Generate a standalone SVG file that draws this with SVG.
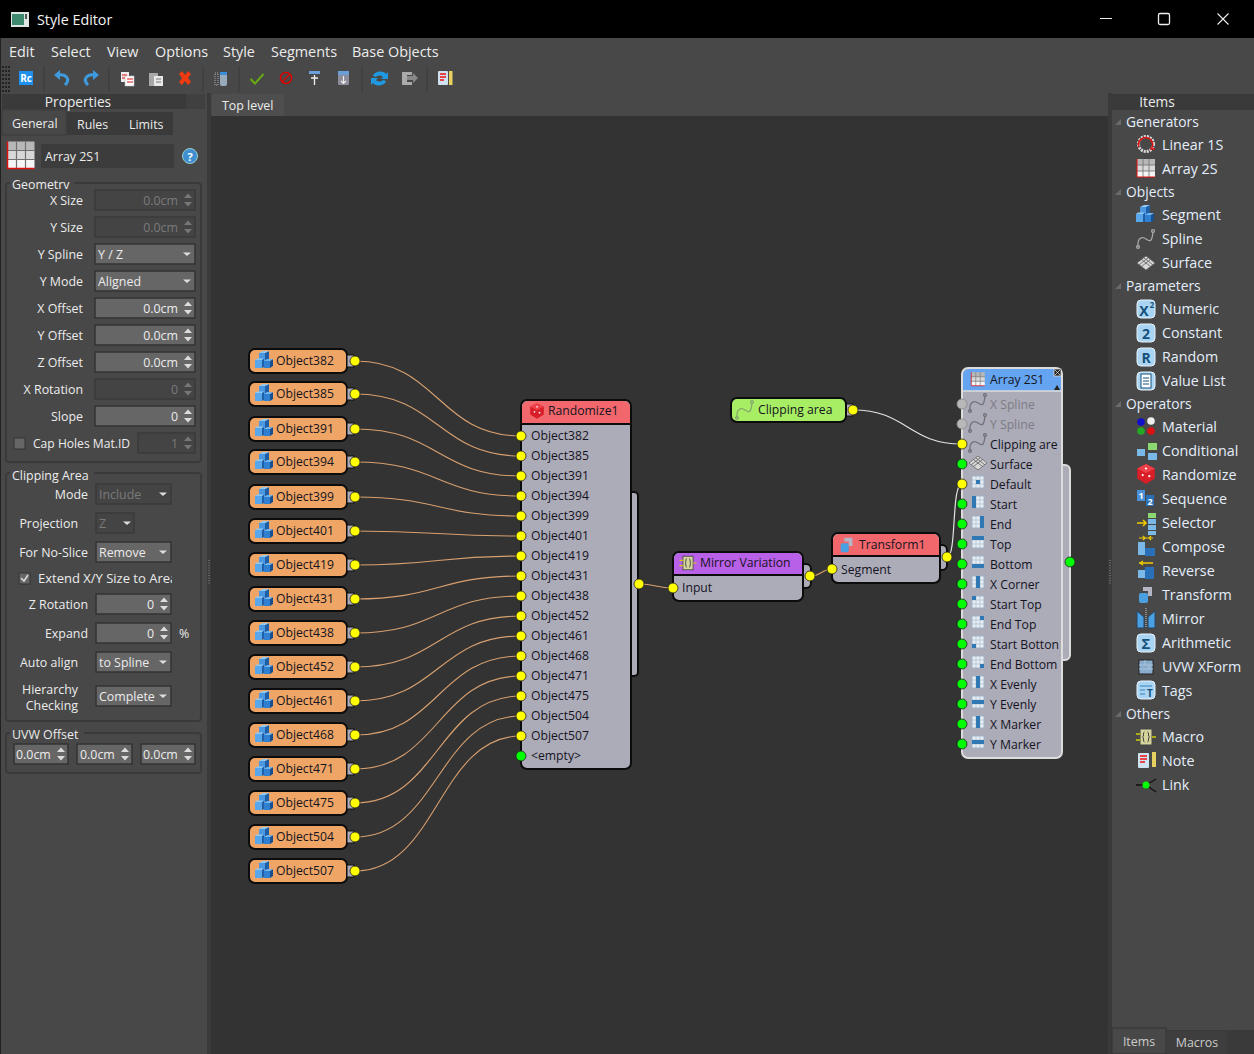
<svg xmlns="http://www.w3.org/2000/svg" width="1254" height="1054" viewBox="0 0 1254 1054">
<style>
text{font-family:"Open Sans","Noto Sans","Liberation Sans",sans-serif;font-size:12.4px;fill:#ececec}
.t{dominant-baseline:central;transform:translateY(-1px)}
.r{text-anchor:end}
.c{text-anchor:middle}
.m{font-size:14.4px}
.h{font-size:13.7px}
.n{fill:#14141e;font-size:12.2px}
.g{fill:#7c7c84;font-size:12.2px}
.d{fill:#7a7a7a}
.i{font-size:14.3px;fill:#e4eefa}
.ih{font-size:13.8px;fill:#e4eefa}
.n,.g,.i,.ih,.h{transform:translateY(-2px)}
.f{fill:#666;stroke:#333;stroke-width:1.5}
.o{fill:#444;stroke:#3a3a3a;stroke-width:1.5}
.fr{fill:none;stroke:#3a3a3a;stroke-width:2}
.e{fill:none;stroke:#d8a070;stroke-width:1.1}
.w{fill:none;stroke:#e2e2e2;stroke-width:1.2}
.py,.pg,.pn{stroke:#222;stroke-width:.8}
.py{fill:#ff0}
.pg{fill:#0f0}
.pn{fill:#b8b8b8;stroke:#8a8a8a}
.b{stroke:#0c0c0c;stroke-width:2}
.ob{fill:#eea566}
.bd{fill:#acabb8}
.rd{fill:#f2676c}
.bl{fill:#2f78b4}
.sp{color:#6f6f78}
</style>
<defs>
<g id="cube"><path d="M-5-7h6v8h-6z" fill="#4c98e0"/><path d="M1-7 5-9V0L1 1z" fill="#1f5fa8"/><path d="M-5-7-1-9H5L1-7z" fill="#8fc8f2"/><path d="M-9 0h7v8h-7z" fill="#5aa6ea"/><path d="M-2 0 0-1.500V7L-2 8z" fill="#1f5fa8"/><path d="M-9 0-7-1.500H0L-2 0z" fill="#8fc8f2"/><path d="M0 1h6v7H0z" fill="#2f80d0"/><path d="M6 1 9-1V6L6 8z" fill="#174f90"/><path d="M0 1 3-1H9L6 1z" fill="#6fb4ea"/></g>
<g id="spline" fill="none" stroke="currentColor" stroke-width="1.300"><path d="M-8 8C-9-1-4-3 0 0S6 3 7-7"/><circle cx="-8" cy="8" r="1.400"/><circle cx="7" cy="-8" r="1.400"/></g>
<g id="surf"><path d="M0-7 9 0 0 7-9 0z" fill="#d8d8d8" stroke="#666" stroke-width=".8"/><path d="M-4.500-3.500 4.500 3.500M-4.500 3.500 4.500-3.500M-2.250-5.250 6.750 1.750M2.250-5.250-6.750 1.750" stroke="#666" stroke-width=".9"/></g>
<g id="grid"><path d="M-9-9h18v6h-18z" fill="#b8b8b8"/><path d="M-9-3h18v6h-18z" fill="#d8d8d8"/><path d="M-9 3h18v6h-18z" fill="#f6f6f6"/><path d="M-3-9v18M3-9v18M-9-3h18M-9 3h18" stroke="#707070" stroke-width=".8"/><path d="M-9-9V9H9" fill="none" stroke="#e01010" stroke-width="1"/></g>
<g id="bubble"><rect x="-9" y="-9" width="18" height="18" rx="4" fill="#a9d4f2" stroke="#e8f3fb"/></g>
<g id="spin"><path d="M-4-2 0-6.500 4-2z"/><path d="M-4 2 0 6.500 4 2z"/></g>
<path id="dd" d="M-4-1.500H4L0 2z" fill="#ddd"/>
<path id="tri" d="M-3 3H3V-3z" fill="#6a6a6a"/>
<g id="pc"><rect x="-6" y="-6" width="12" height="12" fill="#e8eef4" stroke="#9fb4c8"/><path d="M-2-6v12M2-6v12M-6-2h12M-6 2h12" stroke="#a9bccd" stroke-width=".7"/></g>
<g id="macro"><rect x="-6" y="-8" width="12" height="16" fill="#d4d49c" stroke="#444"/><path d="M-6-3h-4M-6 3h-4M6 0h4" stroke="#cc0" stroke-width="1.400"/><path d="M-1.500-5c-2 0 0 5-2 5 2 0 0 5 2 5M1.500-5c2 0 0 5 2 5-2 0 0 5-2 5" fill="none" stroke="#333"/></g>
<g id="tf"><rect x="-7" y="-2" width="9" height="10" rx="2" fill="#4aa0e0"/><path d="M-3-8h9v9h-4v-5h-5z" fill="#b5b5c5"/></g>
<g id="dice"><path d="M0-9 8-5v9L0 9-8 4v-9z" fill="#d81e28"/><path d="M0-9 8-5 0-1-8-5z" fill="#ee4048"/><circle cx="-3" cy="1" r="1" fill="#fff"/><circle cx="3" cy="2" r="1" fill="#fff"/><circle cx="0" cy="-5" r="1" fill="#fff"/></g>
</defs>

<rect width="1254" height="1054" fill="#484848"/>
<rect width="1254" height="38" fill="#000"/>
<g id="titlebar">
<rect x="11" y="12" width="18" height="15" fill="#dfe6e6"/><rect x="12" y="14" width="12" height="11" fill="#3d8a6e"/><rect x="25" y="14" width="2" height="5" fill="#555"/>
<text class="t" x="37" y="20.500" style="font-size:14.300px;fill:#f4f4f4">Style Editor</text>
<path d="M1100 18.500H1112" stroke="#eee" stroke-width="1"/>
<rect x="1158.500" y="13.500" width="11" height="11" rx="1.500" fill="none" stroke="#eee" stroke-width="1.300"/>
<path d="M1217.500 13.500 1228.500 24.500M1228.500 13.500 1217.500 24.500" stroke="#eee" stroke-width="1.100"/>
</g>
<g id="menu">
<text class="t m" x="9" y="52">Edit</text><text class="t m" x="51" y="52">Select</text><text class="t m" x="107" y="52">View</text><text class="t m" x="155" y="52">Options</text><text class="t m" x="223" y="52">Style</text><text class="t m" x="271" y="52">Segments</text><text class="t m" x="352" y="52">Base Objects</text>
</g>
<g id="toolbar">
<path d="M3 66v26M6 66v26M9 66v26" stroke="#222" stroke-width="2" stroke-dasharray="2 2"/>
<rect x="19" y="71" width="14" height="14" fill="#1e90f0"/><text class="t c" x="26" y="79" style="font-size:10px;font-weight:700;fill:#fff">Rc</text>
<path d="M44 66v26M109 66v26M203 66v26M239 66v26M362 66v26M427 66v26" stroke="#3a3a3a"/>
<path d="M60 70 54 75 60 80z" fill="#3f9be0"/><path d="M58 75C66 74 71 79 65 85" fill="none" stroke="#3f9be0" stroke-width="3"/>
<path d="M93 70 99 75 93 80z" fill="#3f9be0"/><path d="M95 75C87 74 82 79 88 85" fill="none" stroke="#3f9be0" stroke-width="3"/>
<rect x="121" y="72" width="8" height="10" fill="#eee"/><rect x="125" y="76" width="9" height="10" fill="#fff" stroke="#bbb" stroke-width=".6"/><path d="M122 75h5M122 78h3M127 79h6M127 82h6" stroke="#d11" stroke-width="1.200"/>
<rect x="149" y="73" width="9" height="13" fill="#a8a8a8"/><rect x="154" y="76" width="9" height="10" fill="#e8e8e8"/><path d="M156 79h5M156 82h5" stroke="#777"/>
<path d="M179 74 182 71 185 75 188 71 191 74 188 78 191 82 188 85 185 81 182 85 179 82 182 78z" fill="#f23a10"/>
<rect x="215" y="73" width="3" height="12" fill="none" stroke="#aaa" stroke-dasharray="1 1"/><rect x="220" y="72" width="7" height="14" rx="2" fill="#9ab"/><rect x="220" y="72" width="7" height="3" fill="#3a8fd8"/>
<path d="M251 78 255 82 263 73 264 75 255 85 250 80z" fill="#66aa10"/>
<circle cx="286" cy="78" r="5.500" fill="none" stroke="#d00" stroke-width="1.500"/><path d="M282 82 290 74" stroke="#d00" stroke-width="1.500"/>
<rect x="309" y="71" width="11" height="3" fill="#6a9fd8"/><path d="M314.500 85V75M311 78h7" stroke="#eee" stroke-width="1.300"/>
<rect x="338" y="71" width="11" height="14" rx="1" fill="#8c8c9c"/><rect x="338" y="71" width="11" height="4" fill="#6a9fd8"/><path d="M343.500 76V83M341 81l2.500 2.500L346 81" fill="none" stroke="#eee" stroke-width="1.200"/>
<path d="M373 76C374 71 384 70 386 74L388 72V79H381L383 77C381 75 378 75 376 77z" fill="#1f9ae0"/><path d="M386 81C385 86 375 87 373 83L371 85V78H378L376 80C378 82 381 82 383 80z" fill="#1f9ae0"/>
<path d="M402 72h10v3h-5v7h5v3h-10z" fill="#aaa"/><path d="M407 76h6v-3l5 5-5 5v-3h-6z" fill="#888"/>
<rect x="438" y="71" width="10" height="14" rx="1" fill="#cfe2f2"/><path d="M440 74h6M440 77h6M440 80h4" stroke="#e11" stroke-width="1.300"/><rect x="449" y="71" width="3.500" height="14" fill="#e8d060"/>
</g>

<rect x="0" y="38" width="1" height="1016" fill="#222"/>
<rect x="207" y="93" width="4" height="961" fill="#3a3a3a"/>
<rect x="1108" y="93" width="4" height="961" fill="#3a3a3a"/>
<rect x="211" y="116" width="897" height="938" fill="#333"/>
<path d="M209 560v25M1110 560v25" stroke="#666" stroke-width="2" stroke-dasharray="1 1.500"/>
<path d="M212 116V96q0-2 2-2H282q2 0 2 2V116z" fill="#4e4e4e"/>
<text class="t" x="222" y="106">Top level</text>

<g id="properties">
<rect x="2" y="94" width="184" height="15" fill="#3a3a3a"/><rect x="186" y="94" width="19" height="15" fill="#404040"/>
<text class="t c h" x="78" y="103">Properties</text>
<rect x="67" y="112" width="106" height="23" fill="#3a3a3a"/>
<rect x="2" y="110" width="64" height="25" fill="#484848" stroke="#3a3a3a"/>
<text class="t" x="12" y="124.500">General</text><text class="t" x="77" y="125.500">Rules</text><text class="t" x="129" y="125.500">Limits</text>
<use href="#grid" transform="translate(21 155) scale(1.500)"/>
<rect x="41" y="144" width="133" height="24" fill="#3c3c3c"/><text class="t" x="45" y="157.500">Array 2S1</text>
<circle cx="190" cy="156" r="7.500" fill="#3f8fd2" stroke="#9cc"/><text class="t c" x="190" y="157" style="font-size:11px;font-weight:700;fill:#fff">?</text>

<rect class="fr" x="6" y="183" width="195" height="279" rx="3"/><rect x="10" y="178" width="64" height="12" fill="#484848"/>
<text class="t" x="12" y="185">Geometrv</text>
<rect class="fr" x="6" y="473" width="195" height="248" rx="3"/><rect x="10" y="467" width="84" height="14" fill="#484848"/>
<text class="t" x="12" y="476">Clipping Area</text>
<rect class="fr" x="6" y="733" width="195" height="40" rx="3"/><rect x="10" y="727" width="74" height="14" fill="#484848"/>
<text class="t" x="12" y="735">UVW Offset</text>

<text class="t r" x="83" y="201">X Size</text><rect class="o" x="95" y="190" width="100" height="20"/><text class="t r d" x="178" y="201">0.0cm</text><use href="#spin" x="188" y="200" fill="#777"/>
<text class="t r" x="83" y="228">Y Size</text><rect class="o" x="95" y="217" width="100" height="20"/><text class="t r d" x="178" y="228">0.0cm</text><use href="#spin" x="188" y="227" fill="#777"/>
<text class="t r" x="83" y="255">Y Spline</text><rect class="f" x="95" y="244" width="100" height="20"/><text class="t" x="98" y="255">Y / Z</text><use href="#dd" x="187" y="254"/>
<text class="t r" x="83" y="282">Y Mode</text><rect class="f" x="95" y="271" width="100" height="20"/><text class="t" x="98" y="282">Aligned</text><use href="#dd" x="187" y="281"/>
<text class="t r" x="83" y="309">X Offset</text><rect class="f" x="95" y="298" width="100" height="20"/><text class="t r" x="178" y="309">0.0cm</text><use href="#spin" x="188" y="308" fill="#ddd"/>
<text class="t r" x="83" y="336">Y Offset</text><rect class="f" x="95" y="325" width="100" height="20"/><text class="t r" x="178" y="336">0.0cm</text><use href="#spin" x="188" y="335" fill="#ddd"/>
<text class="t r" x="83" y="363">Z Offset</text><rect class="f" x="95" y="352" width="100" height="20"/><text class="t r" x="178" y="363">0.0cm</text><use href="#spin" x="188" y="362" fill="#ddd"/>
<text class="t r" x="83" y="390">X Rotation</text><rect class="o" x="95" y="379" width="100" height="20"/><text class="t r d" x="178" y="390">0</text><use href="#spin" x="188" y="389" fill="#777"/>
<text class="t r" x="83" y="417">Slope</text><rect class="f" x="95" y="406" width="100" height="20"/><text class="t r" x="178" y="417">0</text><use href="#spin" x="188" y="416" fill="#ddd"/>
<rect x="14" y="438" width="11" height="11" fill="#666" stroke="#333"/><text class="t" x="33" y="444" style="font-size:12.100px">Cap Holes Mat.ID</text><rect class="o" x="138" y="433" width="57" height="20"/><text class="t r d" x="178" y="444">1</text><use href="#spin" x="188" y="443" fill="#777"/>

<text class="t r" x="88" y="495">Mode</text><rect class="o" x="96" y="484" width="75" height="20"/><text class="t d" x="99" y="495">Include</text><use href="#dd" x="163" y="494"/>
<text class="t r" x="78" y="524">Projection</text><rect class="o" x="96" y="513" width="38" height="20"/><text class="t d" x="99" y="524">Z</text><use href="#dd" x="127" y="523"/>
<text class="t r" x="88" y="553">For No-Slice</text><rect class="f" x="96" y="542" width="75" height="20"/><text class="t" x="99" y="553">Remove</text><use href="#dd" x="163" y="552"/>
<rect x="19" y="573" width="11" height="11" fill="#666" stroke="#333"/><path d="M21 578l3 3 4-6" fill="none" stroke="#ddd" stroke-width="1.500"/>
<svg x="0" y="560" width="172" height="40"><text class="t" x="38" y="19" style="font-size:13px">Extend X/Y Size to Area</text></svg>
<text class="t r" x="88" y="605">Z Rotation</text><rect class="f" x="96" y="594" width="75" height="20"/><text class="t r" x="154" y="605">0</text><use href="#spin" x="164" y="604" fill="#ddd"/>
<text class="t r" x="88" y="634">Expand</text><rect class="f" x="96" y="623" width="75" height="20"/><text class="t r" x="154" y="634">0</text><use href="#spin" x="164" y="633" fill="#ddd"/><text class="t" x="179" y="634">%</text>
<text class="t r" x="78" y="663">Auto align</text><rect class="f" x="96" y="652" width="75" height="20"/><text class="t" x="99" y="663">to Spline</text><use href="#dd" x="163" y="662"/>
<text class="t r" x="78" y="690">Hierarchy</text><text class="t r" x="78" y="706">Checking</text><rect class="f" x="96" y="686" width="75" height="20"/><text class="t" x="99" y="697">Complete</text><use href="#dd" x="163" y="696"/>
<rect class="f" x="14" y="744" width="54" height="20"/><text class="t" x="16" y="755">0.0cm</text><use href="#spin" x="61" y="754" fill="#ddd"/>
<rect class="f" x="77" y="744" width="55" height="20"/><text class="t" x="80" y="755">0.0cm</text><use href="#spin" x="125" y="754" fill="#ddd"/>
<rect class="f" x="141" y="744" width="54" height="20"/><text class="t" x="143" y="755">0.0cm</text><use href="#spin" x="188" y="754" fill="#ddd"/>
</g>

<g id="items">
<rect x="1112" y="94" width="142" height="16" fill="#3a3a3a"/>
<text class="t c h" x="1157" y="103">Items</text>
<use href="#tri" x="1118" y="122"/><text class="t ih" x="1126" y="123">Generators</text>
<circle cx="1146" cy="144" r="7.500" fill="none" stroke="#ddd" stroke-width="3" stroke-dasharray="2 1"/><path d="M1139 147a7 7 0 1 1 12 2h4" fill="none" stroke="#d11" stroke-width="1.600"/><text class="t i" x="1162" y="146">Linear 1S</text>
<use href="#grid" x="1146" y="168"/><text class="t i" x="1162" y="170">Array 2S</text>
<use href="#tri" x="1118" y="192"/><text class="t ih" x="1126" y="193">Objects</text>
<use href="#cube" x="1145" y="214"/><text class="t i" x="1162" y="216">Segment</text>
<use href="#spline" x="1146" y="239" color="#a8a8a8"/><text class="t i" x="1162" y="240">Spline</text>
<use href="#surf" x="1146" y="263"/><text class="t i" x="1162" y="264">Surface</text>
<use href="#tri" x="1118" y="286"/><text class="t ih" x="1126" y="287">Parameters</text>
<use href="#bubble" x="1146" y="309"/><text class="t c" x="1144" y="311" style="font-size:14px;font-weight:700;fill:#14507a">X</text><text class="t c" x="1152" y="305" style="font-size:8px;font-weight:700;fill:#14507a">2</text><text class="t i" x="1162" y="310">Numeric</text>
<use href="#bubble" x="1146" y="333"/><text class="t c" x="1146" y="334" style="font-size:14px;font-weight:700;fill:#14507a">2</text><text class="t i" x="1162" y="334">Constant</text>
<use href="#bubble" x="1146" y="357"/><text class="t c" x="1146" y="358" style="font-size:14px;font-weight:700;fill:#14507a">R</text><text class="t i" x="1162" y="358">Random</text>
<use href="#bubble" x="1146" y="381"/><rect x="1141" y="374" width="10" height="14" fill="#fff" stroke="#14507a"/><path d="M1143 378h6M1143 381h6M1143 384h6" stroke="#14507a"/><text class="t i" x="1162" y="382">Value List</text>
<use href="#tri" x="1118" y="404"/><text class="t ih" x="1126" y="405">Operators</text>
<circle cx="1141" cy="422" r="3.800" fill="#11c"/><circle cx="1151" cy="421" r="3.800" fill="#eee"/><circle cx="1141" cy="431" r="3.800" fill="#2a2"/><circle cx="1151" cy="431" r="3.800" fill="#d11"/><text class="t i" x="1162" y="428">Material</text>
<rect x="1137" y="449" width="8" height="7" fill="#7ab8e8"/><rect x="1148" y="443" width="9" height="7" fill="#8cd870"/><rect x="1148" y="453" width="9" height="7" fill="#7ab8e8"/><text class="t i" x="1162" y="452">Conditional</text>
<use href="#dice" transform="translate(1146 474) scale(1.100)"/><text class="t i" x="1162" y="476">Randomize</text>
<rect x="1137" y="490" width="8" height="11" fill="#4a90d8"/><rect x="1146" y="495" width="8" height="11" fill="#2a70b8"/><text class="t c" x="1141" y="496" style="font-size:9px;font-weight:700;fill:#fff">1</text><text class="t c" x="1150" y="502" style="font-size:9px;font-weight:700;fill:#fff">2</text><text class="t i" x="1162" y="500">Sequence</text>
<path d="M1137 523h9M1143 520l3 3-3 3" fill="none" stroke="#ec0" stroke-width="1.500"/><rect x="1148" y="513" width="8" height="5" fill="#8cd870"/><rect x="1148" y="519" width="8" height="5" fill="#7ab8e8"/><rect x="1148" y="525" width="8" height="5" fill="#7ab8e8"/><rect x="1148" y="531" width="8" height="4" fill="#7ab8e8"/><text class="t i" x="1162" y="524">Selector</text>
<path d="M1139 538h14M1143 536l2 2-2 2M1151 536l-2 2 2 2" fill="none" stroke="#ec0" stroke-width="1.200"/><rect x="1138" y="542" width="7" height="13" fill="#7ab8e8"/><rect x="1145" y="548" width="10" height="8" fill="#2a70b8"/><text class="t i" x="1162" y="548">Compose</text>
<path d="M1139 563h14M1143 561l-3 2 3 2" fill="none" stroke="#ec0" stroke-width="1.300"/><rect x="1138" y="570" width="7" height="8" fill="#7ab8e8"/><rect x="1145" y="567" width="9" height="12" fill="#2a70b8"/><text class="t i" x="1162" y="572">Reverse</text>
<use href="#tf" x="1146" y="595"/><text class="t i" x="1162" y="596">Transform</text>
<path d="M1137 611 1144 617V628H1137zM1155 611 1148 617V628H1155z" fill="#4aa0e0" stroke="#246"/><path d="M1146 608V628" stroke="#ccc" stroke-dasharray="1 1"/><text class="t i" x="1162" y="620">Mirror</text>
<use href="#bubble" x="1146" y="643"/><text class="t c" x="1146" y="644" style="font-size:15px;font-weight:700;fill:#14507a">Σ</text><text class="t i" x="1162" y="644">Arithmetic</text>
<rect x="1139" y="660" width="14" height="14" fill="#8aaccc" stroke="#222"/><path d="M1139 665h14M1139 669h14M1145 660v5M1149 665v4" stroke="#a9c4dc"/><text class="t i" x="1162" y="668">UVW XForm</text>
<use href="#bubble" x="1146" y="690"/><path d="M1140 686h12M1140 690h5M1140 694h5" stroke="#3a80c0"/><text class="t c" x="1150" y="694" style="font-size:10px;font-weight:700;fill:#14507a">T</text><text class="t i" x="1162" y="692">Tags</text>
<use href="#tri" x="1118" y="714"/><text class="t ih" x="1126" y="715">Others</text>
<use href="#macro" x="1146" y="737"/><text class="t i" x="1162" y="738">Macro</text>
<rect x="1138" y="753" width="11" height="15" rx="1" fill="#cfe2f2"/><path d="M1140 756h7M1140 759h7M1140 762h5" stroke="#e11" stroke-width="1.300"/><rect x="1152" y="752" width="4" height="15" fill="#e8d060"/><text class="t i" x="1162" y="762">Note</text>
<path d="M1136 785h10M1146 785l10-6M1146 785l10 7" stroke="#111" stroke-width="1.300"/><circle cx="1146" cy="785" r="3.500" fill="#0f0"/><text class="t i" x="1162" y="786">Link</text>
<rect x="1112" y="1030" width="142" height="24" fill="#3a3a3a"/><rect x="1112" y="1028" width="54" height="26" fill="#484848" stroke="#333"/><rect x="1166" y="1031" width="61" height="23" fill="#3e3e3e"/>
<text class="t c" x="1139" y="1042" style="fill:#ccc">Items</text><text class="t c" x="1197" y="1043" style="fill:#ccc">Macros</text>
</g>

<g id="connectors">
<path class="e" d="M355 361C438 361 438 436 521 436"/>
<path class="e" d="M355 394C438 394 438 456 521 456"/>
<path class="e" d="M355 429C438 429 438 476 521 476"/>
<path class="e" d="M355 462C438 462 438 496 521 496"/>
<path class="e" d="M355 497C438 497 438 516 521 516"/>
<path class="e" d="M355 531C438 531 438 536 521 536"/>
<path class="e" d="M355 565C438 565 438 556 521 556"/>
<path class="e" d="M355 599C438 599 438 576 521 576"/>
<path class="e" d="M355 633C438 633 438 596 521 596"/>
<path class="e" d="M355 667C438 667 438 616 521 616"/>
<path class="e" d="M355 701C438 701 438 636 521 636"/>
<path class="e" d="M355 735C438 735 438 656 521 656"/>
<path class="e" d="M355 769C438 769 438 676 521 676"/>
<path class="e" d="M355 803C438 803 438 696 521 696"/>
<path class="e" d="M355 837C438 837 438 716 521 716"/>
<path class="e" d="M355 871C438 871 438 736 521 736"/>
<path class="e" d="M639 584C656 584 656 588 673 588"/>
<path class="e" d="M811 576C821 576 822 569 832 569"/>
<path class="w" d="M853 410C907 410 908 444 962 444"/>
<path class="w" d="M947 557C957 557 951 484 962 484"/>
</g>

<g id="n382"><rect class="ob b" x="249" y="349" width="98" height="24" rx="6"/><rect x="347" y="355" width="7" height="12" fill="#acabb8" stroke="#111"/><use href="#cube" x="264" y="360"/><text class="t n" x="276" y="362">Object382</text><circle class="py" cx="355" cy="361" r="5"/></g>
<g id="n385"><rect class="ob b" x="249" y="382" width="98" height="24" rx="6"/><rect x="347" y="388" width="7" height="12" fill="#acabb8" stroke="#111"/><use href="#cube" x="264" y="393"/><text class="t n" x="276" y="395">Object385</text><circle class="py" cx="355" cy="394" r="5"/></g>
<g id="n391"><rect class="ob b" x="249" y="417" width="98" height="24" rx="6"/><rect x="347" y="423" width="7" height="12" fill="#acabb8" stroke="#111"/><use href="#cube" x="264" y="428"/><text class="t n" x="276" y="430">Object391</text><circle class="py" cx="355" cy="429" r="5"/></g>
<g id="n394"><rect class="ob b" x="249" y="450" width="98" height="24" rx="6"/><rect x="347" y="456" width="7" height="12" fill="#acabb8" stroke="#111"/><use href="#cube" x="264" y="461"/><text class="t n" x="276" y="463">Object394</text><circle class="py" cx="355" cy="462" r="5"/></g>
<g id="n399"><rect class="ob b" x="249" y="485" width="98" height="24" rx="6"/><rect x="347" y="491" width="7" height="12" fill="#acabb8" stroke="#111"/><use href="#cube" x="264" y="496"/><text class="t n" x="276" y="498">Object399</text><circle class="py" cx="355" cy="497" r="5"/></g>
<g id="n401"><rect class="ob b" x="249" y="519" width="98" height="24" rx="6"/><rect x="347" y="525" width="7" height="12" fill="#acabb8" stroke="#111"/><use href="#cube" x="264" y="530"/><text class="t n" x="276" y="532">Object401</text><circle class="py" cx="355" cy="531" r="5"/></g>
<g id="n419"><rect class="ob b" x="249" y="553" width="98" height="24" rx="6"/><rect x="347" y="559" width="7" height="12" fill="#acabb8" stroke="#111"/><use href="#cube" x="264" y="564"/><text class="t n" x="276" y="566">Object419</text><circle class="py" cx="355" cy="565" r="5"/></g>
<g id="n431"><rect class="ob b" x="249" y="587" width="98" height="24" rx="6"/><rect x="347" y="593" width="7" height="12" fill="#acabb8" stroke="#111"/><use href="#cube" x="264" y="598"/><text class="t n" x="276" y="600">Object431</text><circle class="py" cx="355" cy="599" r="5"/></g>
<g id="n438"><rect class="ob b" x="249" y="621" width="98" height="24" rx="6"/><rect x="347" y="627" width="7" height="12" fill="#acabb8" stroke="#111"/><use href="#cube" x="264" y="632"/><text class="t n" x="276" y="634">Object438</text><circle class="py" cx="355" cy="633" r="5"/></g>
<g id="n452"><rect class="ob b" x="249" y="655" width="98" height="24" rx="6"/><rect x="347" y="661" width="7" height="12" fill="#acabb8" stroke="#111"/><use href="#cube" x="264" y="666"/><text class="t n" x="276" y="668">Object452</text><circle class="py" cx="355" cy="667" r="5"/></g>
<g id="n461"><rect class="ob b" x="249" y="689" width="98" height="24" rx="6"/><rect x="347" y="695" width="7" height="12" fill="#acabb8" stroke="#111"/><use href="#cube" x="264" y="700"/><text class="t n" x="276" y="702">Object461</text><circle class="py" cx="355" cy="701" r="5"/></g>
<g id="n468"><rect class="ob b" x="249" y="723" width="98" height="24" rx="6"/><rect x="347" y="729" width="7" height="12" fill="#acabb8" stroke="#111"/><use href="#cube" x="264" y="734"/><text class="t n" x="276" y="736">Object468</text><circle class="py" cx="355" cy="735" r="5"/></g>
<g id="n471"><rect class="ob b" x="249" y="757" width="98" height="24" rx="6"/><rect x="347" y="763" width="7" height="12" fill="#acabb8" stroke="#111"/><use href="#cube" x="264" y="768"/><text class="t n" x="276" y="770">Object471</text><circle class="py" cx="355" cy="769" r="5"/></g>
<g id="n475"><rect class="ob b" x="249" y="791" width="98" height="24" rx="6"/><rect x="347" y="797" width="7" height="12" fill="#acabb8" stroke="#111"/><use href="#cube" x="264" y="802"/><text class="t n" x="276" y="804">Object475</text><circle class="py" cx="355" cy="803" r="5"/></g>
<g id="n504"><rect class="ob b" x="249" y="825" width="98" height="24" rx="6"/><rect x="347" y="831" width="7" height="12" fill="#acabb8" stroke="#111"/><use href="#cube" x="264" y="836"/><text class="t n" x="276" y="838">Object504</text><circle class="py" cx="355" cy="837" r="5"/></g>
<g id="n507"><rect class="ob b" x="249" y="859" width="98" height="24" rx="6"/><rect x="347" y="865" width="7" height="12" fill="#acabb8" stroke="#111"/><use href="#cube" x="264" y="870"/><text class="t n" x="276" y="872">Object507</text><circle class="py" cx="355" cy="871" r="5"/></g>

<g id="randomize">
<rect class="bd b" x="628" y="492" width="10" height="184" rx="4"/>
<rect class="bd b" x="521" y="400" width="110" height="369" rx="6"/>
<path class="rd" d="M522 407a6 6 0 0 1 6-6h96a6 6 0 0 1 6 6v17H522z"/>
<path d="M521 424H631" stroke="#0c0c0c" stroke-width="2"/>
<use href="#dice" transform="translate(537 411) scale(.85)"/>
<text class="t n" x="548" y="412">Randomize1</text>
<text class="t n" x="531" y="437">Object382</text><text class="t n" x="531" y="457">Object385</text><text class="t n" x="531" y="477">Object391</text><text class="t n" x="531" y="497">Object394</text><text class="t n" x="531" y="517">Object399</text><text class="t n" x="531" y="537">Object401</text><text class="t n" x="531" y="557">Object419</text><text class="t n" x="531" y="577">Object431</text><text class="t n" x="531" y="597">Object438</text><text class="t n" x="531" y="617">Object452</text><text class="t n" x="531" y="637">Object461</text><text class="t n" x="531" y="657">Object468</text><text class="t n" x="531" y="677">Object471</text><text class="t n" x="531" y="697">Object475</text><text class="t n" x="531" y="717">Object504</text><text class="t n" x="531" y="737">Object507</text><text class="t n" x="531" y="757">&lt;empty&gt;</text>
<circle class="py" cx="521" cy="436" r="5"/><circle class="py" cx="521" cy="456" r="5"/><circle class="py" cx="521" cy="476" r="5"/><circle class="py" cx="521" cy="496" r="5"/><circle class="py" cx="521" cy="516" r="5"/><circle class="py" cx="521" cy="536" r="5"/><circle class="py" cx="521" cy="556" r="5"/><circle class="py" cx="521" cy="576" r="5"/><circle class="py" cx="521" cy="596" r="5"/><circle class="py" cx="521" cy="616" r="5"/><circle class="py" cx="521" cy="636" r="5"/><circle class="py" cx="521" cy="656" r="5"/><circle class="py" cx="521" cy="676" r="5"/><circle class="py" cx="521" cy="696" r="5"/><circle class="py" cx="521" cy="716" r="5"/><circle class="py" cx="521" cy="736" r="5"/><circle class="pg" cx="521" cy="756" r="5"/>
<circle class="py" cx="639" cy="584" r="5"/>
</g>

<g id="mirror">
<rect class="bd b" x="798" y="564" width="13" height="24" rx="5"/>
<rect class="bd b" x="673" y="552" width="130" height="49" rx="6"/>
<path fill="#b860e8" d="M674 559a6 6 0 0 1 6-6h116a6 6 0 0 1 6 6v16H674z"/>
<path d="M673 575H803" stroke="#0c0c0c" stroke-width="2"/>
<use href="#macro" transform="translate(688 563) scale(.85)"/>
<text class="t n" x="700" y="564">Mirror Variation</text>
<text class="t n" x="682" y="589">Input</text>
<circle class="py" cx="673" cy="588" r="5"/><circle class="py" cx="810" cy="576" r="5"/>
</g>

<g id="transform">
<rect class="bd b" x="935" y="545" width="12" height="25" rx="5"/>
<rect class="bd b" x="832" y="533" width="108" height="50" rx="6"/>
<path class="rd" d="M833 540a6 6 0 0 1 6-6h94a6 6 0 0 1 6 6v16H833z"/>
<path d="M832 556H940" stroke="#0c0c0c" stroke-width="2"/>
<use href="#tf" transform="translate(847 545) scale(.9)"/>
<text class="t n" x="859" y="546">Transform1</text>
<text class="t n" x="841" y="571">Segment</text>
<circle class="py" cx="832" cy="569" r="5"/><circle class="py" cx="947" cy="557" r="5"/>
</g>

<g id="clipping">
<rect x="846" y="404" width="7" height="12" fill="#acabb8" stroke="#111"/>
<rect class="b" fill="#a8ee64" x="731" y="398" width="115" height="24" rx="6"/>
<use href="#spline" transform="translate(745 410)" color="#84a86c"/>
<text class="t n" x="758" y="411">Clipping area</text>
<circle class="py" cx="853" cy="410" r="5"/>
</g>

<g id="array">
<rect x="1055" y="465" width="15" height="195" rx="5" fill="#acabb8" stroke="#dcdcdc" stroke-width="2"/>
<rect x="962" y="368" width="100" height="390" rx="6" fill="#acabb8" stroke="#dcdcdc" stroke-width="2"/>
<path d="M963 375a6 6 0 0 1 6-6h86a6 6 0 0 1 6 6v16h-98z" fill="#64a4f0"/>
<path d="M962 391H1062" stroke="#dcdcdc" stroke-width="1.500"/>
<use href="#grid" transform="translate(978 379) scale(.75)"/>
<text class="t n" x="990" y="381">Array 2S1</text>
<rect x="1054" y="369" width="7" height="7" fill="#222" stroke="#ddd" stroke-width=".8"/><path d="M1055 370l5 5m0-5-5 5" stroke="#ddd" stroke-width=".8"/><path d="M1054 390l3-5 3 5z" fill="#222"/>
<use class="sp" href="#spline" transform="translate(978 403)"/>
<use class="sp" href="#spline" transform="translate(978 423)"/>
<use class="sp" href="#spline" transform="translate(978 443)"/>
<use href="#surf" transform="translate(978 463)"/>
<use href="#pc" x="978" y="482"/><rect class="bl" x="976" y="480" width="4" height="4"/>
<use href="#pc" x="978" y="502"/><rect class="bl" x="972" y="496" width="4" height="12"/>
<use href="#pc" x="978" y="522"/><rect class="bl" x="980" y="516" width="4" height="12"/>
<use href="#pc" x="978" y="542"/><rect class="bl" x="972" y="536" width="12" height="4"/>
<use href="#pc" x="978" y="562"/><rect class="bl" x="972" y="564" width="12" height="4"/>
<use href="#pc" x="978" y="582"/><rect class="bl" x="976" y="576" width="4" height="12"/>
<use href="#pc" x="978" y="602"/><rect class="bl" x="972" y="596" width="4" height="4"/>
<use href="#pc" x="978" y="622"/><rect class="bl" x="980" y="616" width="4" height="4"/>
<use href="#pc" x="978" y="642"/><rect class="bl" x="972" y="644" width="4" height="4"/>
<use href="#pc" x="978" y="662"/><rect class="bl" x="980" y="664" width="4" height="4"/>
<use href="#pc" x="978" y="682"/><rect class="bl" x="976" y="676" width="4" height="12"/>
<use href="#pc" x="978" y="702"/><rect class="bl" x="972" y="700" width="12" height="4"/>
<use href="#pc" x="978" y="722"/><rect class="bl" x="976" y="716" width="4" height="12"/>
<use href="#pc" x="978" y="742"/><rect class="bl" x="972" y="740" width="12" height="4"/>
<text class="t g" x="990" y="406">X Spline</text><text class="t g" x="990" y="426">Y Spline</text>
<text class="t n" x="990" y="446">Clipping are</text><text class="t n" x="990" y="466">Surface</text><text class="t n" x="990" y="486">Default</text><text class="t n" x="990" y="506">Start</text><text class="t n" x="990" y="526">End</text><text class="t n" x="990" y="546">Top</text><text class="t n" x="990" y="566">Bottom</text><text class="t n" x="990" y="586">X Corner</text><text class="t n" x="990" y="606">Start Top</text><text class="t n" x="990" y="626">End Top</text><text class="t n" x="990" y="646">Start Botton</text><text class="t n" x="990" y="666">End Bottom</text><text class="t n" x="990" y="686">X Evenly</text><text class="t n" x="990" y="706">Y Evenly</text><text class="t n" x="990" y="726">X Marker</text><text class="t n" x="990" y="746">Y Marker</text>
<circle class="pn" cx="962" cy="404" r="5"/><circle class="pn" cx="962" cy="424" r="5"/><circle class="py" cx="962" cy="444" r="5"/><circle class="pg" cx="962" cy="464" r="5"/><circle class="py" cx="962" cy="484" r="5"/><circle class="pg" cx="962" cy="504" r="5"/><circle class="pg" cx="962" cy="524" r="5"/><circle class="pg" cx="962" cy="544" r="5"/><circle class="pg" cx="962" cy="564" r="5"/><circle class="pg" cx="962" cy="584" r="5"/><circle class="pg" cx="962" cy="604" r="5"/><circle class="pg" cx="962" cy="624" r="5"/><circle class="pg" cx="962" cy="644" r="5"/><circle class="pg" cx="962" cy="664" r="5"/><circle class="pg" cx="962" cy="684" r="5"/><circle class="pg" cx="962" cy="704" r="5"/><circle class="pg" cx="962" cy="724" r="5"/><circle class="pg" cx="962" cy="744" r="5"/>
<circle class="pg" cx="1070" cy="562" r="5"/>
</g>
</svg>
